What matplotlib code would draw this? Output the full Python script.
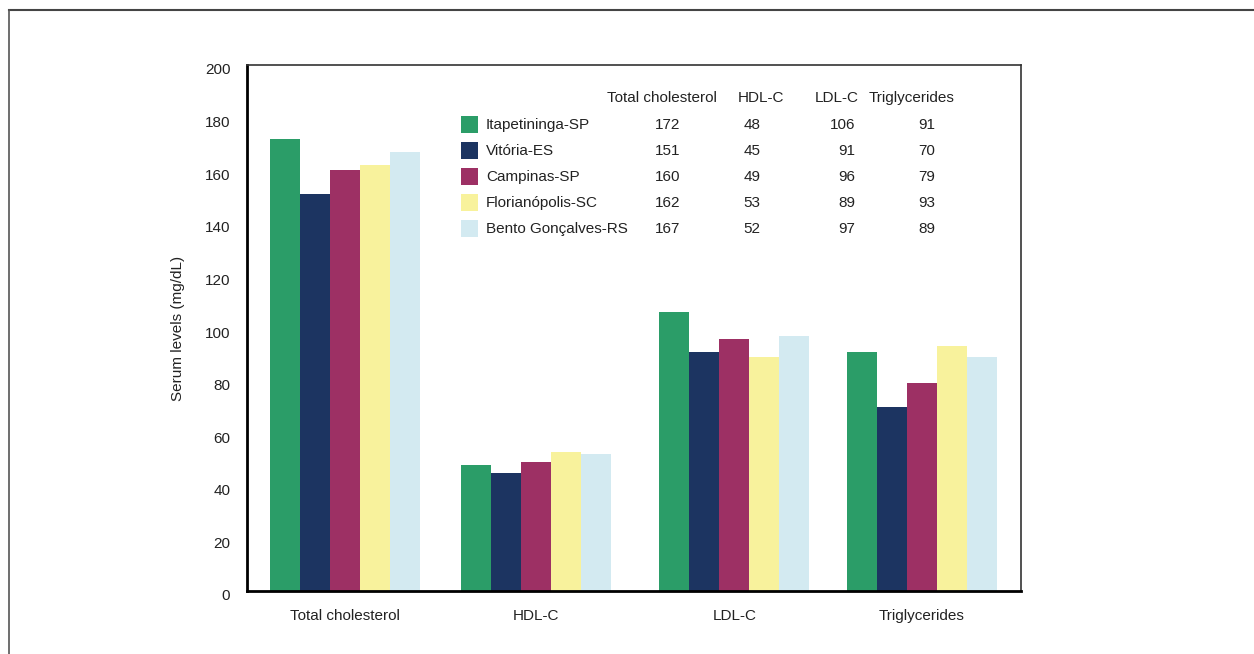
import matplotlib.pyplot as plt
import matplotlib.transforms as mtransforms
from matplotlib.patches import Rectangle
from matplotlib.lines import Line2D
import numpy as np

plt.rcParams['font.family'] = ['Liberation Sans', 'DejaVu Sans']

categories = ['Total cholesterol', 'HDL-C', 'LDL-C', 'Triglycerides']
cities = ['Itapetininga-SP', 'Vitória-ES', 'Campinas-SP', 'Florianópolis-SC', 'Bento Gonçalves-RS']
colors = ['#2b9d68', '#1c3461', '#9d3064', '#f8f29c', '#d3eaf1']

itapetininga = [172, 48, 106, 91]
vitoria = [151, 45, 91, 70]
campinas = [160, 49, 96, 79]
florianopolis = [162, 53, 89, 93]
bento = [167, 52, 97, 89]
series = [itapetininga, vitoria, campinas, florianopolis, bento]

W, H = 1254, 654
fig = plt.figure(figsize=(W / 100, H / 100), dpi=100)

def fx(px):
    return px / W

def fy(py):
    return 1 - py / H

# axes box in pixels: left 247, right 1021, top 65, bottom 591
ax = fig.add_axes([fx(247), fy(591), fx(1021) - fx(247), fy(65) - fy(591)])

# group centres (in px from the left spine) and bar width
centers = np.array([97.8, 288.7, 487.3, 674.7])
bw = 30
for i, vals in enumerate(series):
    ax.bar(centers + (i - 2) * bw, vals, width=bw, color=colors[i], linewidth=0)

ax.set_xlim(0, 774)
ax.set_ylim(0, 200)
ax.set_yticks(np.arange(0, 201, 20))
ax.set_xticks(centers)
ax.set_xticklabels(categories)
ax.tick_params(axis='both', length=0, labelsize=11, colors='#222222')
ax.tick_params(axis='y', pad=12)
ax.tick_params(axis='x', pad=13)
off = mtransforms.ScaledTranslation(0, -4 / 100, fig.dpi_scale_trans)
for lab in ax.get_yticklabels():
    lab.set_transform(lab.get_transform() + off)
ax.set_ylabel('Serum levels (mg/dL)', fontsize=11, color='#222222', labelpad=14)

for side in ['left', 'bottom']:
    ax.spines[side].set_linewidth(2)
for side in ['top', 'right']:
    ax.spines[side].set_linewidth(1.2)
    ax.spines[side].set_color('#333333')

# outer frame (top and left edges only visible)
fig.add_artist(Line2D([fx(9), 1], [fy(10), fy(10)], color='#444444', lw=1.5))
fig.add_artist(Line2D([fx(9), fx(9)], [0, fy(10)], color='#555555', lw=1.2))

# legend table
col_x = [668, 752, 855, 927]
col_ha = ['center', 'center', 'right', 'center']
head_x = [662, 761, 837, 912]
fs = 11
for name, hx in zip(categories, head_x):
    fig.text(fx(hx), fy(98), name, ha='center', va='center', fontsize=fs, color='#222222')
for i, (city, vals) in enumerate(zip(cities, series)):
    yc = 125 + 26 * i
    fig.add_artist(Rectangle((fx(461), fy(yc + 8)), fx(17), fy(0) - fy(17),
                             facecolor=colors[i], edgecolor='none', transform=fig.transFigure))
    fig.text(fx(486), fy(yc), city, ha='left', va='center', fontsize=fs, color='#222222')
    for v, cx, ha in zip(vals, col_x, col_ha):
        fig.text(fx(cx), fy(yc), str(v), ha=ha, va='center', fontsize=fs, color='#222222')

fig.savefig('out.png', dpi=100)
